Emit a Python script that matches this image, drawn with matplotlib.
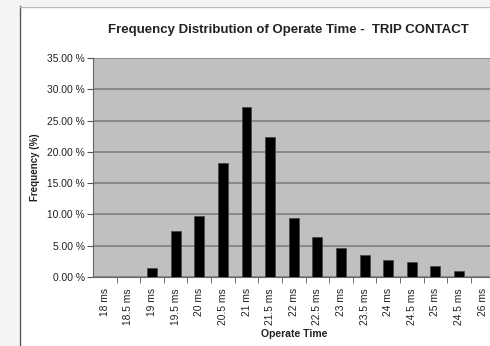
import matplotlib
matplotlib.use("Agg")
import matplotlib.pyplot as plt
from matplotlib.patches import Rectangle

categories = ["18 ms", "18.5 ms", "19 ms", "19.5 ms", "20 ms", "20.5 ms", "21 ms",
              "21.5 ms", "22 ms", "22.5 ms", "23 ms", "23.5 ms", "24 ms", "24.5 ms",
              "25 ms", "24.5 ms", "26 ms"]
frequency = [0.0, 0.0, 1.4, 7.4, 9.75, 18.2, 27.2, 22.3, 9.5, 6.4, 4.7, 3.5, 2.7, 2.35,
             1.75, 0.95, 0.0]
yticks = [0, 5, 10, 15, 20, 25, 30, 35]
ytick_labels = ["0.00 %", "5.00 %", "10.00 %", "15.00 %", "20.00 %", "25.00 %",
                "30.00 %", "35.00 %"]

plt.rcParams['font.family'] = ['Liberation Sans', 'DejaVu Sans']

W, H = 490, 346
fig = plt.figure(figsize=(W / 100, H / 100), dpi=100, facecolor='#f4f4f4')

# background axes holding the white chart box
bg = fig.add_axes([0, 0, 1, 1], zorder=-10)
bg.set_xlim(0, W)
bg.set_ylim(H, 0)
bg.axis('off')
bg.add_patch(Rectangle((19, 6), W - 19, H - 6, facecolor='white', edgecolor='none'))
bg.plot([19.5, 19.5], [6, H], color='#555555', lw=1.0)
bg.plot([19.5, W], [6.5, 6.5], color='#bbbbbb', lw=1.0)

left, right = 93 / W, 494.5 / W
bottom, top = 1 - 277 / H, 1 - 58 / H
ax = fig.add_axes([left, bottom, right - left, top - bottom], zorder=1)
ax.set_facecolor('#c0c0c0')

x = list(range(len(categories)))
ax.bar(x, frequency, width=0.42, color='black', edgecolor='#444444', linewidth=0.5, zorder=3)

ax.set_xlim(-0.5, len(categories) - 0.5)
ax.set_ylim(0, 35)
ax.set_yticks(yticks)
ax.set_yticklabels(ytick_labels, fontsize=7.4, color='#222222')
ax.yaxis.grid(True, color='#7a7a7a', linewidth=1.1, zorder=1)
ax.set_axisbelow(True)

ax.set_xticks(x)
ax.set_xticklabels(categories, rotation=90, fontsize=7.4, color='#222222')
ax.set_xticks([i + 0.5 for i in x[:-1]], minor=True)
ax.tick_params(axis='x', which='major', length=0, pad=8)
ax.tick_params(axis='x', which='minor', length=4, color='#555555', direction='out')
ax.tick_params(axis='y', length=4, color='#555555', direction='out', pad=2)

for s in ['top', 'right']:
    ax.spines[s].set_visible(False)
ax.spines['left'].set_color('#666666')
ax.spines['bottom'].set_color('#666666')

ax.set_ylabel('Frequency (%)', fontsize=7, fontweight='bold', labelpad=5, color='#222222')
ax.set_xlabel('Operate Time', fontsize=7.5, fontweight='bold', labelpad=3, color='#222222')

fig.text(288 / W, 1 - 30 / H, 'Frequency Distribution of Operate Time -  TRIP CONTACT',
         ha='center', va='center', fontsize=9.5, fontweight='bold', color='#222222')

fig.savefig('out.png', dpi=100, facecolor=fig.get_facecolor())
